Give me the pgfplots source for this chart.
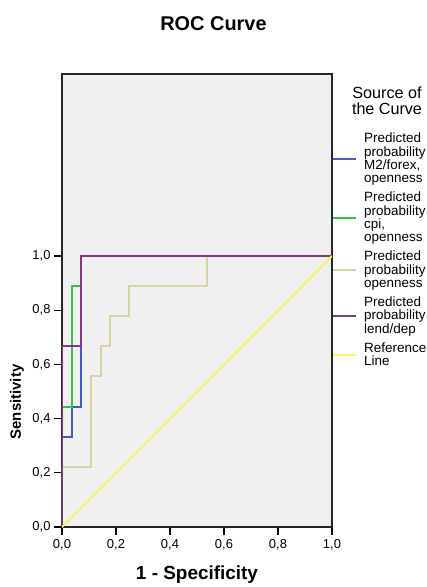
\documentclass[border=0pt]{standalone}
\usepackage{fontspec}
\setmainfont{Liberation Sans}
\usepackage{pgfplots}
\pgfplotsset{compat=1.18}
\definecolor{cblue}{RGB}{62,92,196}
\definecolor{cgreen}{RGB}{58,190,72}
\definecolor{ctan}{RGB}{216,211,160}
\definecolor{cpurple}{RGB}{128,56,128}
\definecolor{cyellow}{RGB}{248,244,100}
\definecolor{bgray}{RGB}{240,240,240}
\begin{document}
\begin{tikzpicture}
\begin{axis}[name=ax, scale only axis, width=270bp, height=453bp,
  xmin=0, xmax=1, ymin=0, ymax=1.672,
  axis background/.style={fill=bgray},
  xtick={0,0.2,0.4,0.6,0.8,1}, ytick={0,0.2,0.4,0.6,0.8,1},
  xtick pos=left, ytick pos=left,
  tick align=outside, major tick length=8bp,
  tick style={black, line width=1.2bp},
  axis line style={line width=1.5bp, black!85},
  /pgf/number format/use comma, /pgf/number format/fixed,
  /pgf/number format/fixed zerofill, /pgf/number format/precision=1,
  /pgf/number format/assume math mode=true,
  ticklabel style={font=\fontsize{13}{15}\selectfont},
  xticklabel style={yshift=-1bp},
  xlabel={1 - Specificity}, ylabel={Sensitivity},
  xlabel style={font=\fontsize{19}{22}\selectfont\bfseries, at={(axis description cs:0.5,-0.106)}, anchor=center},
  ylabel style={font=\fontsize{15}{18}\selectfont\bfseries, at={(axis description cs:-0.167,0.276)}, anchor=center},
  legend style={at={(1,0.8698)}, anchor=north west, draw=none, fill=none, inner sep=0pt,
    row sep=8bp, column sep=7bp, nodes={inner sep=0pt},
    font=\fontsize{13.5}{13.3}\selectfont, cells={anchor=west, align=left}},
  legend image code/.code={\draw[#1, line width=2bp] (0bp,0bp) -- (23bp,0bp);},
]
\addplot[cblue, line width=2bp] coordinates {(0,0) (0,0.3333) (0.0357,0.3333) (0.0357,0.4444) (0.0714,0.4444) (0.0714,1) (1,1)};
\addlegendentry{Predicted\\probability\\M2/forex,\\openness}
\addplot[cgreen, line width=2bp] coordinates {(0,0) (0,0.4444) (0.0357,0.4444) (0.0357,0.8889) (0.0714,0.8889) (0.0714,1) (1,1)};
\addlegendentry{Predicted\\probability\\cpi,\\openness}
\addplot[ctan, line width=2bp] coordinates {(0,0) (0,0.2222) (0.1071,0.2222) (0.1071,0.5556) (0.1429,0.5556) (0.1429,0.6667) (0.1786,0.6667) (0.1786,0.7778) (0.25,0.7778) (0.25,0.8889) (0.5357,0.8889) (0.5357,1) (1,1)};
\addlegendentry{Predicted\\probability\\openness}
\addplot[cpurple, line width=2bp] coordinates {(0,0) (0,0.6667) (0.0714,0.6667) (0.0714,1) (1,1)};
\addlegendentry{Predicted\\probability\\lend/dep}
\addplot[cyellow, line width=2bp] coordinates {(0,0) (1,1)};
\addlegendentry{Reference\\Line}
\end{axis}
\node[font=\fontsize{16.2}{16.5}\selectfont, align=center, anchor=center] at ([xshift=325bp,yshift=426bp]ax.south west) {Source of\\the Curve};
\node[font=\fontsize{20}{24}\selectfont\bfseries, anchor=center] at ([xshift=151.5bp,yshift=503bp]ax.south west) {ROC Curve};
\pgfresetboundingbox
\path ([xshift=-62bp,yshift=-60bp]ax.south west) rectangle ([xshift=95bp,yshift=74bp]ax.north east);
\end{tikzpicture}
\end{document}
